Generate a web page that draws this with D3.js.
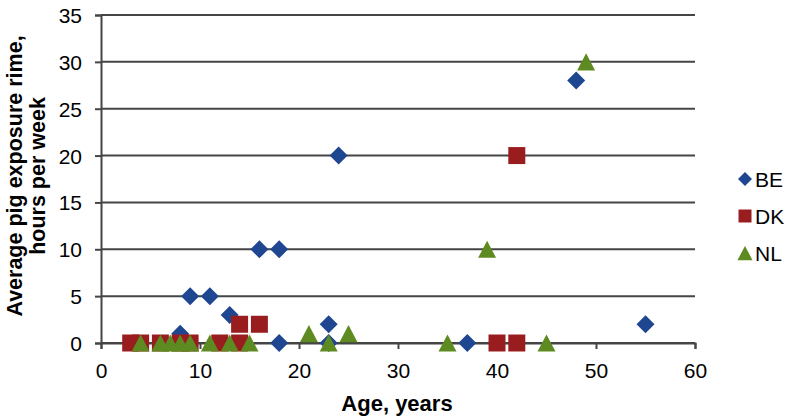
<!DOCTYPE html>
<html><head><meta charset="utf-8">
<script src="https://cdnjs.cloudflare.com/ajax/libs/d3/7.8.5/d3.min.js"></script>
<style>body{margin:0;background:#fff}svg{display:block;font-family:"Liberation Sans",Arial,sans-serif}</style>
</head><body><svg id="c" width="792" height="420"></svg>
<script>
const seriesNames = ["BE", "DK", "NL"];
const seriesColors = ["#1f4690", "#991c1f", "#5e8b21"];
const beAge = [8, 9, 11, 13, 16, 18, 18, 23, 23, 24, 37, 48, 55];
const beHours = [1, 5, 5, 3, 10, 10, 0, 2, 0, 20, 0, 28, 2];
const dkAge = [3, 4, 6, 8, 9, 12, 14, 14, 16, 40, 42, 42];
const dkHours = [0, 0, 0, 0, 0, 0, 0, 2, 2, 0, 0, 20];
const nlAge = [4, 6, 7, 8, 9, 11, 13, 15, 21, 23, 25, 35, 39, 45, 49];
const nlHours = [0, 0, 0, 0, 0, 0, 0, 0, 1, 0, 1, 0, 10, 0, 30];
const xTicks = [0, 10, 20, 30, 40, 50, 60];
const yTicks = [0, 5, 10, 15, 20, 25, 30, 35];

const svg = d3.select("#c");
const x = d3.scaleLinear().domain([0, 60]).range([101, 695]);
const y = d3.scaleLinear().domain([0, 35]).range([343, 15]);

// custom symbol types; "size" is the full width in px
const diamond = {draw(c, s) { const r = s / 2; c.moveTo(0, -r); c.lineTo(r, 0); c.lineTo(0, r); c.lineTo(-r, 0); c.closePath(); }};
const square = {draw(c, s) { const r = s / 2; c.rect(-r, -r, s, s); }};
const triangle = {draw(c, s) { const r = s / 2, h = s * 0.95 / 2; c.moveTo(0, -h); c.lineTo(r, h); c.lineTo(-r, h); c.closePath(); }};
const shapes = [diamond, square, triangle];
const sizes = [18, 17, 18];
const legendSizes = [14, 13, 15];

// gridlines
svg.append("g").selectAll("line").data(yTicks).join("line")
  .attr("x1", x(0)).attr("x2", x(60))
  .attr("y1", d => y(d)).attr("y2", d => y(d))
  .attr("stroke", "#454545").attr("stroke-width", 2);

const gx = svg.append("g").attr("transform", `translate(0,${y(0)})`)
  .call(d3.axisBottom(x).tickValues(xTicks).tickSize(6).tickPadding(14).tickFormat(d3.format("d")));
const gy = svg.append("g").attr("transform", `translate(${x(0)},0)`)
  .call(d3.axisLeft(y).tickValues(yTicks).tickSize(6).tickPadding(13).tickFormat(d3.format("d")));
[gx, gy].forEach(g => {
  g.attr("font-size", null).attr("font-family", null);
  g.select(".domain").attr("stroke", "#454545").attr("stroke-width", 2);
  g.selectAll(".tick line").attr("stroke", "#454545").attr("stroke-width", 2);
  g.selectAll("text").style("font-size", "21px").attr("fill", "#000");
});
gy.selectAll("text").attr("dy", "0.36em");

const data = [
  beAge.map((a, i) => ({a, h: beHours[i]})),
  dkAge.map((a, i) => ({a, h: dkHours[i]})),
  nlAge.map((a, i) => ({a, h: nlHours[i]}))
];
data.forEach((pts, s) => {
  svg.append("g").selectAll("path").data(pts).join("path")
    .attr("d", d3.symbol().type(shapes[s]).size(sizes[s]))
    .attr("transform", d => `translate(${x(d.a)},${y(d.h)})`)
    .attr("fill", seriesColors[s]);
});

// axis titles
svg.append("text").attr("x", 397).attr("y", 411).attr("text-anchor", "middle")
  .style("font-size", "22px").attr("font-weight", "bold").text("Age, years");
const yt = svg.append("text").attr("transform", "translate(0,176) rotate(-90)")
  .attr("text-anchor", "middle").style("font-size", "21.5px").attr("font-weight", "bold");
yt.append("tspan").attr("x", 0).attr("y", 22).text("Average pig exposure rime,");
yt.append("tspan").attr("x", 0).attr("y", 45).text("hours per week");

// legend
const leg = svg.append("g");
seriesNames.forEach((n, i) => {
  const ly = 179 + i * 37;
  leg.append("path").attr("d", d3.symbol().type(shapes[i]).size(legendSizes[i])())
    .attr("transform", `translate(745,${ly})`).attr("fill", seriesColors[i]);
  leg.append("text").attr("x", 755).attr("y", ly).attr("dy", "0.36em")
    .style("font-size", "21px").text(n);
});
</script></body></html>
